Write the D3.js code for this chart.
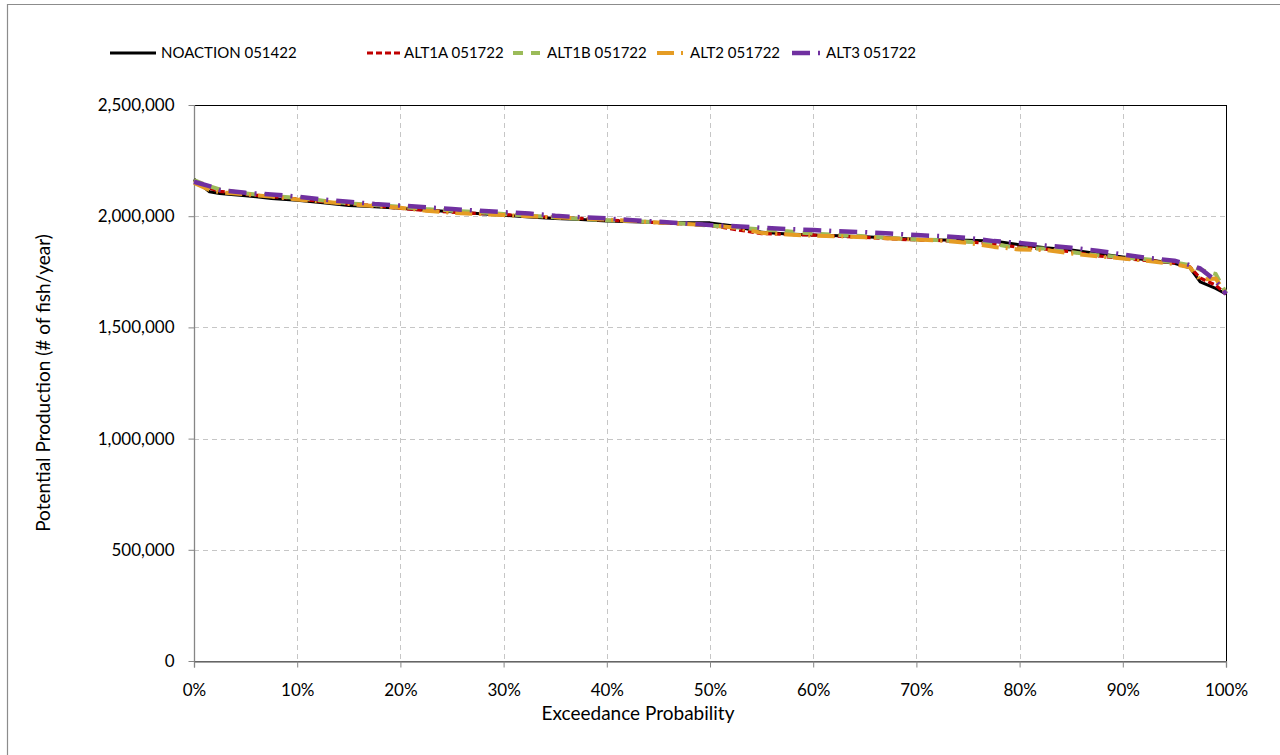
<!DOCTYPE html>
<html><head><meta charset="utf-8">
<script src="https://cdn.jsdelivr.net/npm/d3@7"></script>
<style>body{margin:0;background:#fff;}svg{display:block;font-family:Lato,"Open Sans",sans-serif;}</style>
</head><body>
<svg id="c" width="1280" height="755"></svg>
<script>
const exceed = [0,1.5,2.5,5,7.5,10,12.5,15,17.5,20,22.5,25,27.5,30,32.5,35,37.5,40,42.5,45,47.5,50,52.5,55,57.5,60,62.5,65,67.5,70,72.5,75,77.5,80,82.5,85,87.5,90,92.5,95,96.5,97.5,99,100];
const noaction = [2167000,2110000,2102000,2092000,2080000,2072000,2060000,2048000,2043000,2036000,2028000,2020000,2012000,2004000,1996000,1990000,1985000,1978000,1975000,1972000,1970000,1970000,1955000,1928000,1920000,1915000,1912000,1908000,1902000,1896000,1893000,1892000,1888000,1872000,1858000,1848000,1832000,1817000,1803000,1788000,1768000,1705000,1675000,1650000];
const alt1a = [2160000,2125000,2112000,2098000,2088000,2078000,2065000,2055000,2048000,2035000,2025000,2018000,2012000,2008000,2000000,1995000,1990000,1982000,1978000,1970000,1965000,1958000,1940000,1922000,1918000,1915000,1910000,1905000,1898000,1893000,1890000,1885000,1875000,1860000,1852000,1840000,1822000,1810000,1800000,1790000,1772000,1722000,1690000,1650000];
const alt1b = [2162000,2135000,2120000,2102000,2092000,2082000,2070000,2058000,2050000,2042000,2032000,2025000,2018000,2010000,2002000,1995000,1988000,1982000,1978000,1973000,1966000,1958000,1950000,1940000,1932000,1922000,1915000,1910000,1902000,1895000,1892000,1885000,1875000,1855000,1855000,1838000,1825000,1815000,1805000,1792000,1780000,1760000,1740000,1655000];
const alt2 = [2150000,2118000,2108000,2098000,2088000,2075000,2065000,2055000,2045000,2038000,2025000,2015000,2010000,2005000,2000000,1995000,1990000,1985000,1978000,1972000,1965000,1960000,1948000,1925000,1918000,1912000,1910000,1905000,1900000,1895000,1890000,1880000,1862000,1850000,1848000,1832000,1820000,1810000,1798000,1785000,1770000,1715000,1720000,1650000];
const alt3 = [2155000,2135000,2118000,2105000,2098000,2088000,2075000,2065000,2055000,2048000,2040000,2032000,2025000,2018000,2012000,2002000,1995000,1990000,1982000,1975000,1968000,1960000,1955000,1948000,1942000,1938000,1932000,1928000,1922000,1915000,1910000,1902000,1888000,1880000,1868000,1858000,1845000,1828000,1812000,1800000,1780000,1765000,1710000,1650000];
const seriesNames = ["NOACTION 051422","ALT1A 051722","ALT1B 051722","ALT2 051722","ALT3 051722"];
const yTicks = [0,500000,1000000,1500000,2000000,2500000];
const xTicks = [0,10,20,30,40,50,60,70,80,90,100];

const styles = [
  {color:"#000000", width:3, dash:null},
  {color:"#C00000", width:3.2, dash:"6,3"},
  {color:"#9BBB59", width:4, dash:"10,8"},
  {color:"#E59C24", width:4, dash:"17,7,2,7"},
  {color:"#7030A0", width:4.5, dash:"18,8,2,8"}
];
const legendText = [161,404,547,690,826];
const legendLine = [[110,156],[367,402],[513,540],[657,684],[792,820]];
const seriesData = [noaction,alt1a,alt1b,alt2,alt3];

const svg = d3.select("#c");
const L=194,R=1226,T=105,B=661;
const x = d3.scaleLinear().domain([0,100]).range([L,R]);
const y = d3.scaleLinear().domain([0,2500000]).range([B,T]);

// outer frame
svg.append("path").attr("d","M7.5,755 V4.5 H1280").attr("fill","none").attr("stroke","#8c8c8c").attr("stroke-width",1.2);

// grid
const g = svg.append("g");
g.selectAll(".hg").data(yTicks.slice(1)).join("line")
  .attr("x1",L).attr("x2",R).attr("y1",d=>Math.round(y(d))+0.5).attr("y2",d=>Math.round(y(d))+0.5)
  .attr("stroke","#c6c6c6").attr("stroke-dasharray","5,4");
g.selectAll(".vg").data(xTicks.slice(1,-1)).join("line")
  .attr("y1",T).attr("y2",B).attr("x1",d=>Math.round(x(d))+0.5).attr("x2",d=>Math.round(x(d))+0.5)
  .attr("stroke","#c6c6c6").attr("stroke-dasharray","5,4");

// plot border
svg.append("rect").attr("x",L+0.5).attr("y",T+0.5).attr("width",R-L).attr("height",B-T)
  .attr("fill","none").attr("stroke","#000").attr("stroke-width",1);

// axes
const yAxis = d3.axisLeft(y).tickValues(yTicks).tickSize(6).tickPadding(14).tickFormat(d3.format(","));
const ya = svg.append("g").attr("transform",`translate(${L+0.5},0)`).call(yAxis);
const xAxis = d3.axisBottom(x).tickValues(xTicks).tickSize(6).tickPadding(16).tickFormat(d=>d+"%");
const xa = svg.append("g").attr("transform",`translate(0,${B+0.5})`).call(xAxis);
[ya,xa].forEach(a=>{
  a.select(".domain").attr("stroke","#868686").attr("stroke-width",1.3);
  a.selectAll(".tick line").attr("stroke","#868686");
  a.selectAll("text").attr("font-size",17).attr("fill","#000").attr("font-family","Lato");
});
ya.select(".domain").attr("d",`M0,${T}V${B}`);

// lines
const line = d3.line().x((d,i)=>x(exceed[i])).y(d=>y(d));
seriesData.forEach((s,i)=>{
  const st = styles[i];
  svg.append("path").datum(s).attr("d",line).attr("fill","none")
    .attr("stroke",st.color).attr("stroke-width",st.width)
    .attr("stroke-dasharray",st.dash).attr("stroke-linejoin","round");
});

// legend
const lg = svg.append("g");
seriesNames.forEach((n,i)=>{
  const st = styles[i];
  lg.append("line").attr("x1",legendLine[i][0]).attr("x2",legendLine[i][1]).attr("y1",53).attr("y2",53)
    .attr("stroke",st.color).attr("stroke-width",st.width).attr("stroke-dasharray",st.dash);
  lg.append("text").attr("x",legendText[i]).attr("y",53).attr("dy","0.36em").attr("font-size",15).text(n);
});

// axis titles
svg.append("text").attr("x",638).attr("y",713).attr("dy","0.35em").attr("text-anchor","middle").attr("font-size",19).text("Exceedance Probability");
svg.append("text").attr("transform","translate(43,383) rotate(-90)").attr("dy","0.35em").attr("text-anchor","middle").attr("font-size",19).text("Potential Production (# of fish/year)");
</script>
</body></html>
